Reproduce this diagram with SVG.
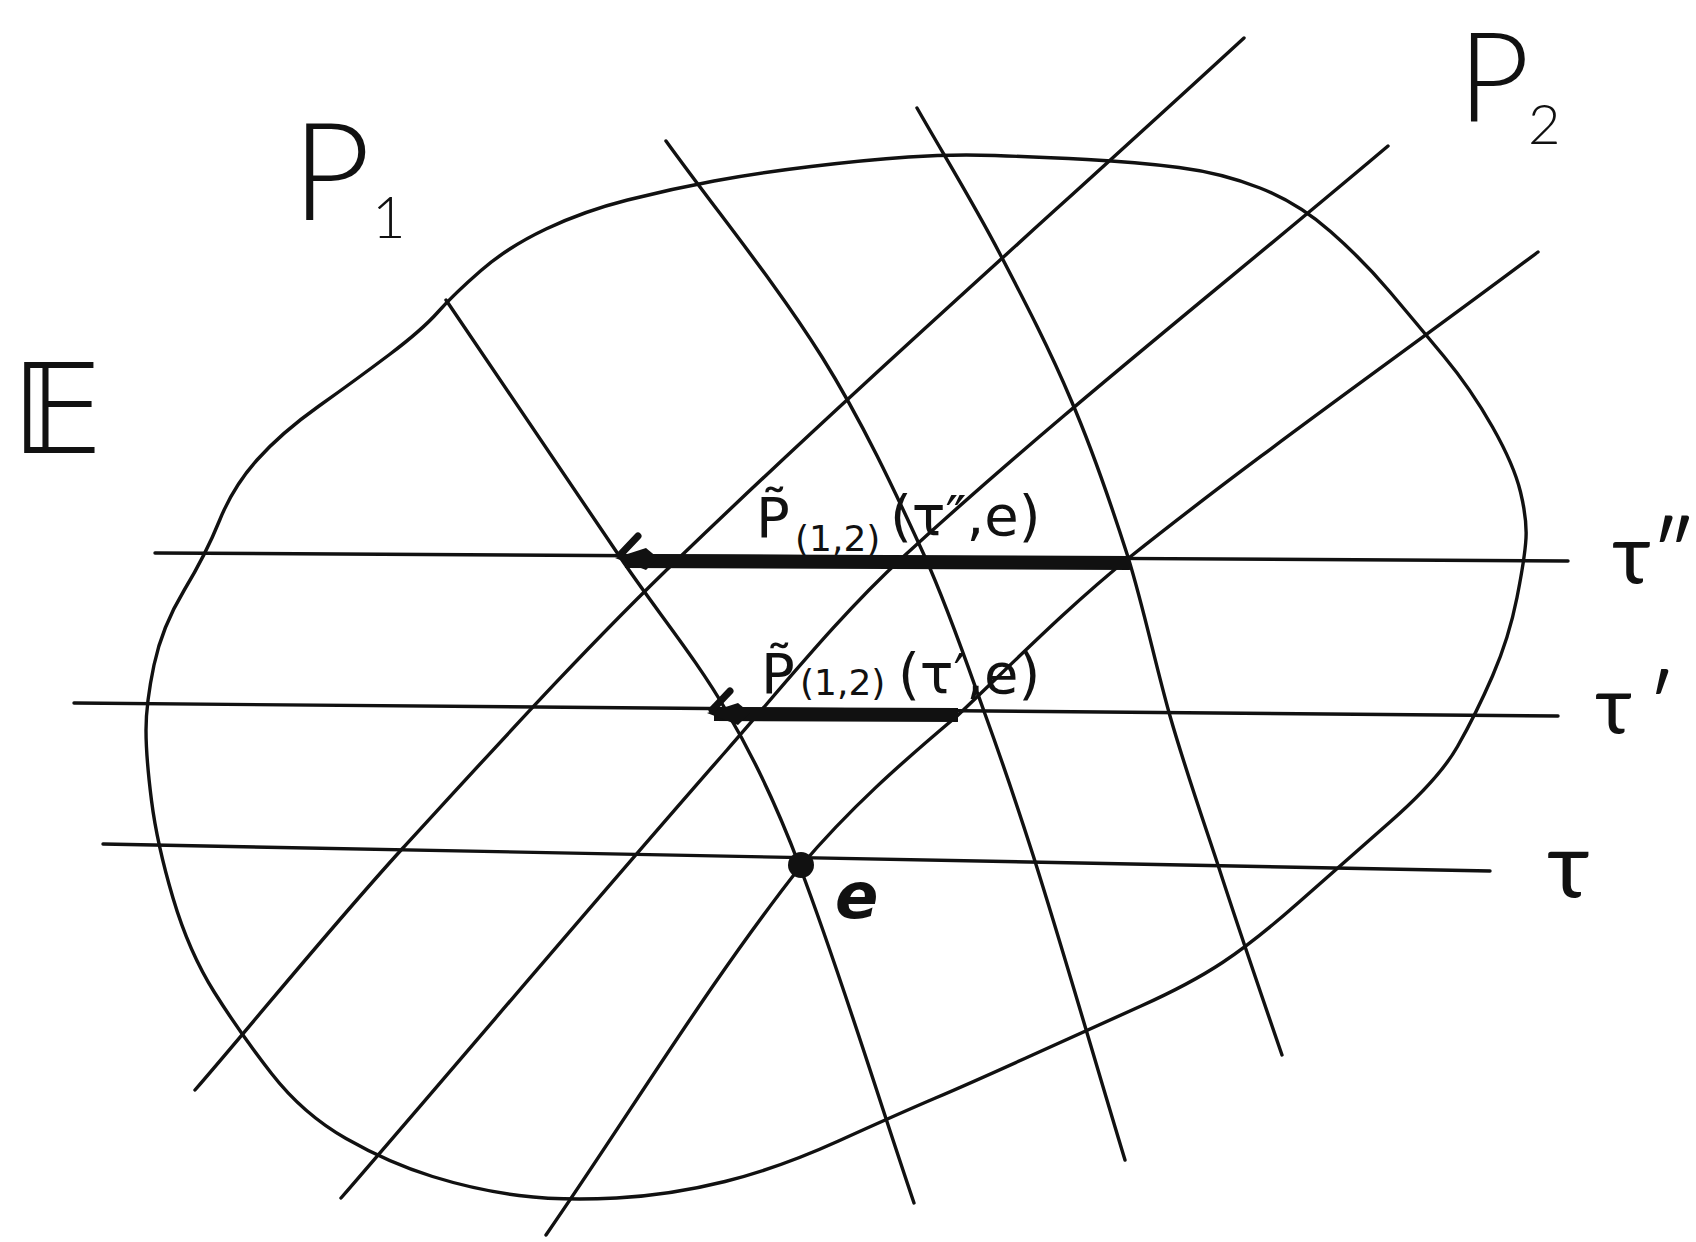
<svg xmlns="http://www.w3.org/2000/svg" xmlns:xlink="http://www.w3.org/1999/xlink" width="1696" height="1242" viewBox="0 0 1696 1242">
<style>
.ln{fill:none;stroke:#111;stroke-width:3.4;stroke-linecap:round;stroke-linejoin:round}
.thick{fill:none;stroke:#111;stroke-width:14;stroke-linecap:butt}
.big{font-family:"Lato","DejaVu Sans",sans-serif;font-weight:300;fill:#111}
.tau{font-family:"Lato","DejaVu Sans",sans-serif;font-weight:400;fill:#111}
.lbl{font-family:"DejaVu Sans","Liberation Sans",sans-serif;fill:#111;font-size:56px}
</style>
<defs>
<g id="hook">
<path d="M-3,0 L28,-10 L40,0 L28,12 Z" fill="#111"/>
<path d="M2,-3 L20,-22" stroke="#111" stroke-width="7" stroke-linecap="round"/>
</g>
</defs>
<rect width="1696" height="1242" fill="#fff"/>
<g id="region-E">
<path class="ln" d="M438,312 Q454,294 481,270.5 Q508,247 546,229 Q584,211 627.5,200 Q671,189 714,181 Q757,173 811,166.5 Q865,160 908.5,157 Q952,154 995,155.5 Q1038,157 1087,159.5 Q1136,162 1179,167.5 Q1222,173 1260,188 Q1298,203 1330.5,231.5 Q1363,260 1390,292 Q1417,324 1444,356.5 Q1471,389 1492.5,427 Q1514,465 1520.5,492 Q1527,519 1526,538 Q1525,557 1517,597.5 Q1509,638 1492.5,676 Q1476,714 1457.5,746.5 Q1439,779 1390,822 Q1341,865 1298,903 Q1255,941 1222.5,962.5 Q1190,984 1141,1006 Q1092,1028 1032.5,1055 Q973,1082 935.5,1098 Q898,1114 838.5,1141 Q779,1168 725,1181.5 Q671,1195 616.5,1198 Q562,1201 519,1195.5 Q476,1190 432.5,1176.5 Q389,1163 346,1138.5 Q303,1114 271.5,1073.5 Q240,1033 214.5,992.5 Q189,952 173,898 Q157,844 151.5,800.5 Q146,757 146,730 Q146,703 154,665 Q162,627 184,590.5 Q206,554 219.5,520.5 Q233,487 257,460 Q281,433 319,406 Q357,379 389.5,354.5 Q422,330 438,312 Z"/>
</g>
<g id="connectors">
<g id="family-P1">
<path class="ln" d="M446,300 C504,386 562,472 620,557 C655,609 696,658 727,712 C756,761 780,814 800,867 C842,978 876,1091 914,1203"/>
<path class="ln" d="M666,141 C718,213 775,282 822,357 C862,421 894,489 925,557 C948,608 966,661 985,714 C1002,761 1018,808 1033,855 C1065,956 1094,1058 1125,1160"/>
<path class="ln" d="M917,108 C945,157 974,204 1000,254 C1025,302 1050,350 1071,400 C1093,451 1111,504 1128,557 C1144,609 1155,663 1170,716 C1184,765 1201,814 1217,862 C1238,927 1260,991 1282,1055"/>
</g>
<g id="family-P2">
<path class="ln" d="M195,1090 C264,1010 331,927 402,849 C493,750 583,650 680,557 C864,380 1056,211 1244,38"/>
<path class="ln" d="M341,1198 C470,1049 597,898 727,750 C784,685 839,616 903,557 C1059,414 1226,283 1388,146"/>
<path class="ln" d="M546,1235 C631,1112 708,984 800,867 C850,808 900,764 957,716 C1014,662 1069,606 1130,557 C1263,451 1402,354 1538,252"/>
</g>
<g id="time-lines">
<line class="ln" x1="155" y1="553" x2="1568" y2="561"/>
<line class="ln" x1="74" y1="703" x2="1558" y2="716"/>
<line class="ln" x1="103" y1="844" x2="1490" y2="871"/>
</g>
<g id="transport">
<line class="thick" x1="625" y1="561" x2="1130" y2="563"/>
<use xlink:href="#hook" x="618" y="558"/>
<line class="thick" x1="714" y1="714" x2="958" y2="715"/>
<use xlink:href="#hook" x="710" y="713"/>
</g>
</g>
<g id="point-e">
<circle cx="801" cy="865" r="13" fill="#111"/>
<text x="835" y="918" font-family="DejaVu Sans, sans-serif" font-style="italic" font-weight="bold" font-size="64" fill="#111">e</text>
</g>
<g id="label-P1"><text class="big" x="292" y="220" font-size="136">P</text><text class="big" x="372" y="238" font-size="58">1</text></g>
<g id="label-P2"><text class="big" x="1458" y="122" font-size="124">P</text><text class="big" x="1528" y="144" font-size="56">2</text></g>
<g id="label-E"><text x="12" y="453" font-family="DejaVu Sans, sans-serif" font-size="124" fill="#111">𝔼</text></g>
<g id="label-tau2"><text class="tau" x="1612" y="583" font-size="84">τ″</text></g>
<g id="label-tau1"><text class="tau" x="1595" y="733" font-size="80">τ<tspan x="1648" y="733">′</tspan></text></g>
<g id="label-tau"><text class="tau" x="1547" y="897" font-size="92">τ</text></g>
<g id="label-transport2"><text class="lbl" y="537"><tspan x="756">P̃</tspan><tspan x="795" y="551" font-size="36">(1,2)</tspan><tspan x="890" y="535">(τ″,e)</tspan></text></g>
<g id="label-transport1"><text class="lbl" y="693"><tspan x="761">P̃</tspan><tspan x="800" y="695" font-size="36">(1,2)</tspan><tspan x="898" y="693">(τ′,e)</tspan></text></g>
</svg>
